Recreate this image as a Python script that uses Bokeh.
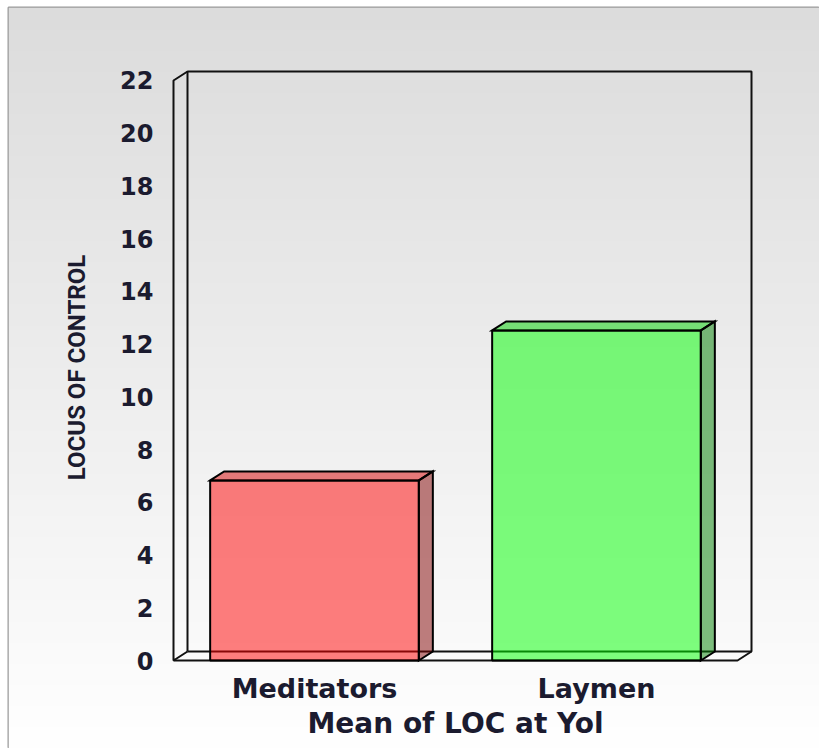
import numpy as np
from bokeh.plotting import figure
from bokeh.models import Range1d, ColumnDataSource, Label
from bokeh.core.properties import value
from bokeh.embed import file_html
from bokeh.resources import INLINE

# ---------------- data ----------------
categories = ["Meditators", "Laymen"]
loc_values = [6.83, 12.52]
y_ticks = list(range(0, 23, 2))
tick_labels = [str(t) for t in y_ticks]
x_title = "Mean of LOC at Yol"
y_title = "LOCUS OF CONTROL"
y_max = 22

# ---------------- styles / layout ----------------
front_colors = ["#ff0000", "#00ff00"]
top_colors = ["#d80000", "#00d000"]
side_colors = ["#800000", "#008000"]
TEXT_COLOR = "#1b1b2f"

W, H = 819, 748
FRAME_L, FRAME_T = 8, 7
X0_PX, Y0_PX = 173, 660        # pixel position of the data origin
PX_X = 282.0                   # pixels per category slot
PX_Y = 26.364                  # pixels per value unit
DEPTH_X_PX, DEPTH_Y_PX = 14, 9
BAR_W = 0.74


def px_to_x(px):
    return (px - X0_PX) / PX_X


def px_to_y(py):
    return (Y0_PX - py) / PX_Y


DX = DEPTH_X_PX / PX_X
DY = DEPTH_Y_PX / PX_Y
N = len(categories)

x_range = Range1d(px_to_x(FRAME_L), px_to_x(W))
y_range = Range1d(px_to_y(H), px_to_y(FRAME_T))

p = figure(width=W, height=H, x_range=x_range, y_range=y_range,
           output_backend="svg", toolbar_location=None,
           x_axis_location=None, y_axis_location=None,
           min_border_left=FRAME_L, min_border_top=FRAME_T,
           min_border_right=0, min_border_bottom=0,
           border_fill_color="white", background_fill_color="white",
           outline_line_color="#9a9a9a", outline_line_width=2)
p.xgrid.visible = False
p.ygrid.visible = False

# ---------------- gradient background ----------------
Hf = H - FRAME_T
img = np.zeros((Hf, 1), dtype=np.uint32)
view = img.view(dtype=np.uint8).reshape((Hf, 1, 4))
frac = np.arange(Hf) / (Hf - 1)          # 0 at bottom, 1 at top
gray = (255 - (255 - 220) * frac).astype(np.uint8)
view[:, 0, 0] = gray
view[:, 0, 1] = gray
view[:, 0, 2] = gray
view[:, 0, 3] = 255
p.image_rgba(image=[img], x=x_range.start, y=y_range.start,
             dw=x_range.end - x_range.start, dh=y_range.end - y_range.start)

# ---------------- 3D walls ----------------
wall_xs = [
    [DX, N + DX, N + DX, DX, DX],            # back wall
    [DX, 0, 0, DX],                          # left wall front edge
    [0, N, N + DX],                          # floor front edge
]
wall_ys = [
    [DY, DY, y_max + DY, y_max + DY, DY],
    [y_max + DY, y_max, 0, DY],
    [0, 0, DY],
]
p.multi_line(xs=wall_xs, ys=wall_ys, line_color="#111111", line_width=2)

# ---------------- bars ----------------
centers = [i + 0.5 for i in range(N)]
hw = BAR_W / 2
front = ColumnDataSource(dict(
    left=[c - hw for c in centers], right=[c + hw for c in centers],
    top=loc_values, bottom=[0] * N, color=front_colors))
p.quad(left="left", right="right", top="top", bottom="bottom", source=front,
       fill_color="color", fill_alpha=0.5, line_color="black", line_width=2)

tops = ColumnDataSource(dict(
    xs=[[c - hw, c - hw + DX, c + hw + DX, c + hw] for c in centers],
    ys=[[v, v + DY, v + DY, v] for v in loc_values],
    color=top_colors))
p.patches(xs="xs", ys="ys", source=tops, fill_color="color", fill_alpha=0.5,
          line_color="black", line_width=2, line_join="miter")

sides = ColumnDataSource(dict(
    xs=[[c + hw, c + hw + DX, c + hw + DX, c + hw] for c in centers],
    ys=[[v, v + DY, DY, 0] for v in loc_values],
    color=side_colors))
p.patches(xs="xs", ys="ys", source=sides, fill_color="color", fill_alpha=0.5,
          line_color="black", line_width=2, line_join="miter")

# ---------------- tick labels ----------------
p.text(x=[px_to_x(153)] * len(y_ticks), y=y_ticks, text=tick_labels,
       text_align="right", text_baseline="middle",
       text_font=value("DejaVu Sans"), text_font_style="bold",
       text_font_size="24px", text_color=TEXT_COLOR)

p.text(x=centers, y=[px_to_y(688)] * N, text=categories,
       text_align="center", text_baseline="middle",
       text_font=value("DejaVu Sans"), text_font_style="bold",
       text_font_size="27px", text_color=TEXT_COLOR)

# ---------------- axis titles ----------------
p.add_layout(Label(x=N / 2, y=px_to_y(723), text=x_title,
                   text_align="center", text_baseline="middle",
                   text_font="DejaVu Sans", text_font_style="bold",
                   text_font_size="28px", text_color=TEXT_COLOR))
p.add_layout(Label(x=px_to_x(76), y=px_to_y(367), text=y_title, angle=np.pi / 2,
                   text_align="center", text_baseline="middle",
                   text_font="Roboto", text_font_style="bold",
                   text_font_size="24px", text_color=TEXT_COLOR))

open("out.html", "w").write(file_html(p, INLINE))
